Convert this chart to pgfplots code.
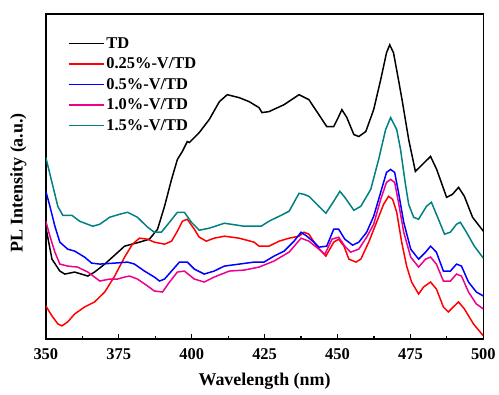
\documentclass[border=0pt]{standalone}
\usepackage{fontspec}
\setmainfont{Liberation Serif}
\usepackage{pgfplots}
\pgfplotsset{compat=1.18}
\definecolor{tealc}{RGB}{0,128,128}
\begin{document}
\begin{tikzpicture}
\begin{axis}[
  at={(0,0)}, anchor=origin,
  scale only axis, width=439pt, height=326pt,
  xmin=350, xmax=500, ymin=0, ymax=326,
  xtick={350,375,...,500}, minor x tick num=1,
  ytick=\empty,
  xtick pos=bottom, tick align=inside,
  major tick length=5pt, minor tick length=3pt,
  axis line style={line width=1.6pt},
  every tick/.style={black, line width=1.2pt},
  /pgf/number format/assume math mode=true,
  tick label style={font=\bfseries\fontsize{16.5}{19}\selectfont},
  xticklabel style={anchor=center, yshift=-15pt},
  xlabel={Wavelength (nm)},
  ylabel={PL Intensity (a.u.)},
  label style={font=\bfseries\fontsize{18}{21}\selectfont},
  xlabel style={at={(axis description cs:0.5,0)}, anchor=center, yshift=-43pt},
  ylabel style={at={(axis description cs:-0.063,0.48)}, anchor=center, rotate=0},
  legend style={draw=none, fill=none, at={(axis description cs:0.05,0.935)}, anchor=north west,
    font=\bfseries\fontsize{16.5}{19}\selectfont, row sep=4.2pt, inner sep=0pt},
  legend cell align=left,
  legend image code/.code={\draw[#1, line width=1.5pt] (0pt,0pt) -- (35pt,0pt);},
  every axis plot/.append style={line width=1.5pt},
  clip=true,
]
\addplot[black] coordinates {
(350,112)(352.1,80)(354.8,68)(356.5,65)(359.9,67)(364.4,63)(366.7,67)(370.2,75)(377.0,93)(382.1,97)(385.5,100)(388.3,110)(390.7,133)(393.1,160)(395.1,180)(396.8,188)(398.5,198)(399.2,197)(402.6,207)(406.0,220)(409.5,238)(412.2,245)(416.3,242)(419.7,238)(423.1,232)(424.1,227)(426.5,228)(431.7,235)(436.8,245)(440.2,240)(443.6,225)(446.3,213)(448.7,213)(450.4,223)(451.5,230)(453.2,222)(455.6,205)(457.3,203)(459.7,208)(462.4,230)(464.8,260)(466.8,287)(467.9,295)(469.2,287)(470.9,260)(472.3,237)(474.4,200)(476.7,168)(479.1,175)(481.9,183)(484.0,170)(487.4,142)(489.4,145)(491.5,152)(493.5,143)(496.3,122)(500,108)
};
\addlegendentry{TD}
\addplot[red] coordinates {
(350,33)(352.1,23)(354.1,15)(355.5,13)(357.5,17)(359.9,25)(363.3,32)(366.7,37)(370.2,47)(373.6,63)(377.0,82)(379.7,95)(382.1,101)(384.9,100)(387.2,97)(390.7,95)(393.1,98)(395.1,108)(396.8,118)(398.5,120)(400.9,110)(402.6,102)(405.0,98)(407.7,101)(411.2,103)(416.3,101)(421.4,97)(423.1,93)(426.5,93)(430.0,98)(433.4,101)(436.8,103)(438.5,107)(440.2,105)(442.9,93)(446.0,83)(448.7,97)(450.4,100)(452.2,93)(453.9,80)(456.3,77)(458.0,80)(460.7,97)(463.4,117)(465.8,135)(467.5,143)(468.9,140)(470.3,127)(472.0,97)(473.7,73)(475.4,57)(477.8,45)(479.5,52)(481.9,57)(483.9,50)(486.3,32)(488.0,27)(489.7,32)(491.5,37)(493.5,30)(496.6,15)(500,3)
};
\addlegendentry{0.25\%-V/TD}
\addplot[blue] coordinates {
(350,148)(351.4,133)(353.1,113)(354.8,97)(357.5,90)(359.9,88)(363.3,82)(365.7,76)(368.5,75)(373.6,76)(378.0,77)(380.4,75)(383.8,68)(387.2,62)(389.0,58)(390.7,60)(393.1,68)(395.8,77)(398.5,77)(400.9,70)(404.3,65)(407.7,68)(411.2,73)(416.3,75)(421.4,77)(424.8,77)(428.2,83)(431.7,88)(435.1,98)(437.5,107)(439.5,103)(441.9,97)(443.6,92)(446.3,93)(448.7,110)(450.4,110)(452.5,100)(455.2,94)(457.3,97)(460.0,107)(462.4,123)(464.8,147)(466.8,167)(468.2,170)(469.6,167)(470.9,147)(472.7,117)(475.1,90)(477.8,80)(480.2,87)(481.9,93)(483.9,87)(486.3,68)(488.7,68)(490.8,75)(492.5,73)(494.9,57)(497.6,47)(500,43)
};
\addlegendentry{0.5\%-V/TD}
\addplot[magenta] coordinates {
(350,118)(351.4,103)(353.1,87)(354.8,75)(357.5,73)(360.9,72)(364.4,67)(366.7,62)(368.5,58)(371.9,60)(374.6,60)(377.0,62)(378.7,63)(381.4,60)(384.9,53)(387.2,48)(390.0,47)(392.4,57)(395.1,67)(397.5,68)(400.9,60)(404.3,57)(407.7,62)(412.9,68)(418.0,69)(423.1,72)(428.2,78)(433.4,87)(437.5,101)(440.2,98)(443.6,90)(445.7,85)(448.1,100)(450.4,102)(452.5,93)(454.5,87)(457.3,90)(460.0,102)(462.4,115)(464.8,140)(466.8,157)(468.2,160)(469.6,157)(470.9,137)(472.7,107)(475.1,82)(477.8,72)(480.2,80)(481.9,82)(483.9,75)(486.3,58)(488.7,58)(490.8,65)(492.5,63)(494.9,47)(497.6,35)(500,30)
};
\addlegendentry{1.0\%-V/TD}
\addplot[tealc] coordinates {
(350,182)(352.1,157)(354.1,133)(355.8,124)(358.9,124)(361.6,118)(366.1,113)(368.5,115)(371.9,122)(375.3,125)(378.0,127)(381.4,122)(384.9,112)(387.2,107)(389.6,107)(392.4,117)(395.1,127)(397.5,127)(399.9,117)(402.6,109)(406.0,111)(411.2,116)(418.0,113)(423.8,113)(426.5,118)(430.0,123)(433.4,128)(436.8,146)(438.5,145)(440.2,143)(443.6,133)(446.0,126)(448.7,138)(450.8,148)(452.5,142)(455.6,129)(458.0,133)(461.4,150)(464.1,180)(466.5,210)(468.2,222)(470.3,210)(471.6,190)(473.3,155)(474.4,135)(476.1,122)(477.8,120)(480.5,133)(482.2,137)(484.6,120)(486.7,105)(488.7,107)(490.8,115)(492.1,117)(494.2,107)(496.9,93)(500,81)
};
\addlegendentry{1.5\%-V/TD}
\end{axis}
\path (-46pt,-56pt) rectangle (453pt,340pt);
\end{tikzpicture}
\end{document}
